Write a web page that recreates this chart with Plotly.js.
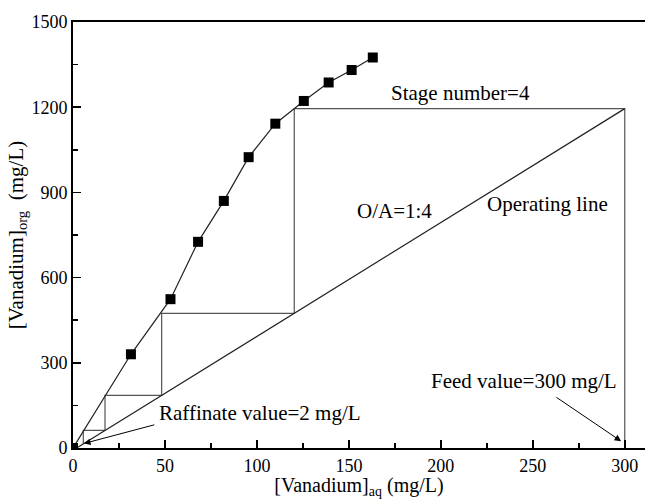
<!DOCTYPE html>
<html>
<head>
<meta charset="utf-8">
<script src="https://cdn.plot.ly/plotly-3.0.1.min.js"></script>
<style>
html,body{margin:0;padding:0;background:#fff;overflow:hidden;}
#chart{width:645px;height:499px;}
</style>
</head>
<body>
<div id="chart"></div>
<script>
// Equilibrium isotherm (measured points)
const eqX = [0, 31.5, 53, 68, 82, 95.5, 110, 125.5, 139, 151.5, 163];
const eqY = [0, 330, 524, 726, 870, 1024, 1142, 1222, 1287, 1331, 1375];
// Operating line (O/A = 1:4)
const opX = [2, 300];
const opY = [0, 1195];
// McCabe-Thiele stage construction
const stepX = [300, 300, 120.3, 120.3, 48.2, 48.2, 17.4, 17.4, 5.6, 5.6];
const stepY = [0, 1195, 1195, 474, 474, 185, 185, 62, 62, 14];
// Tick values
const xTicks = [0, 50, 100, 150, 200, 250, 300];
const yTicks = [0, 300, 600, 900, 1200, 1500];

const FONT = "'Liberation Serif', 'Times New Roman', Times, serif";

const traces = [
  {x: stepX, y: stepY, mode: 'lines', line: {color: '#555', width: 1.2}, hoverinfo: 'skip'},
  {x: opX, y: opY, mode: 'lines', line: {color: '#222', width: 1.2}, hoverinfo: 'skip'},
  {x: eqX, y: eqY, mode: 'lines+markers', line: {color: '#222', width: 1.2},
   marker: {symbol: 'square', size: 10, color: '#000'}}
];

const layout = {
  width: 645, height: 499,
  margin: {l: 73, r: 0, t: 22, b: 51},
  paper_bgcolor: '#fff', plot_bgcolor: '#fff',
  showlegend: false,
  font: {family: FONT, size: 20, color: '#000'},
  xaxis: {
    range: [0, 311], tickvals: xTicks, ticktext: xTicks.map(String),
    ticks: 'inside', ticklen: 8, tickwidth: 1.5, tickcolor: '#000',
    minor: {dtick: 25, ticks: 'inside', ticklen: 5, tickwidth: 1.5, tickcolor: '#000'},
    showline: true, linewidth: 2, linecolor: '#000', mirror: true,
    showgrid: false, zeroline: false,
    tickfont: {family: FONT, size: 18},
    title: {text: '[Vanadium]<sub>aq</sub> (mg/L)', font: {family: FONT, size: 20}, standoff: 1}
  },
  yaxis: {
    range: [0, 1500], tickvals: yTicks, ticktext: yTicks.map(String),
    ticks: 'inside', ticklen: 8, tickwidth: 1.5, tickcolor: '#000',
    minor: {dtick: 150, ticks: 'inside', ticklen: 5, tickwidth: 1.5, tickcolor: '#000'},
    showline: true, linewidth: 2, linecolor: '#000', mirror: false,
    showgrid: false, zeroline: false,
    tickfont: {family: FONT, size: 18},
    title: {text: '[Vanadium]<sub>org</sub>  (mg/L)', font: {family: FONT, size: 21}, standoff: 2}
  },
  annotations: [
    {x: 210.9, y: 1251, xref: 'x', yref: 'y', text: 'Stage number=4', showarrow: false, font: {family: FONT, size: 21}},
    {x: 175, y: 835, xref: 'x', yref: 'y', text: 'O/A=1:4', showarrow: false, font: {family: FONT, size: 21}},
    {x: 258.2, y: 859, xref: 'x', yref: 'y', text: 'Operating line', showarrow: false, font: {family: FONT, size: 21}},
    {x: 245.1, y: 235, xref: 'x', yref: 'y', text: 'Feed value=300 mg/L', showarrow: false, font: {family: FONT, size: 21}},
    {x: 101.6, y: 125, xref: 'x', yref: 'y', text: 'Raffinate value=2 mg/L', showarrow: false, font: {family: FONT, size: 21}},
    {x: 298, y: 24, xref: 'x', yref: 'y', ax: 262, ay: 182, axref: 'x', ayref: 'y', text: '',
     showarrow: true, arrowhead: 2, arrowsize: 1.3, arrowwidth: 1, arrowcolor: '#000'},
    {x: 6, y: 16, xref: 'x', yref: 'y', ax: 45, ay: 83, axref: 'x', ayref: 'y', text: '',
     showarrow: true, arrowhead: 2, arrowsize: 1.3, arrowwidth: 1, arrowcolor: '#000'}
  ]
};

Plotly.newPlot('chart', traces, layout, {displayModeBar: false, staticPlot: true});
</script>
</body>
</html>
